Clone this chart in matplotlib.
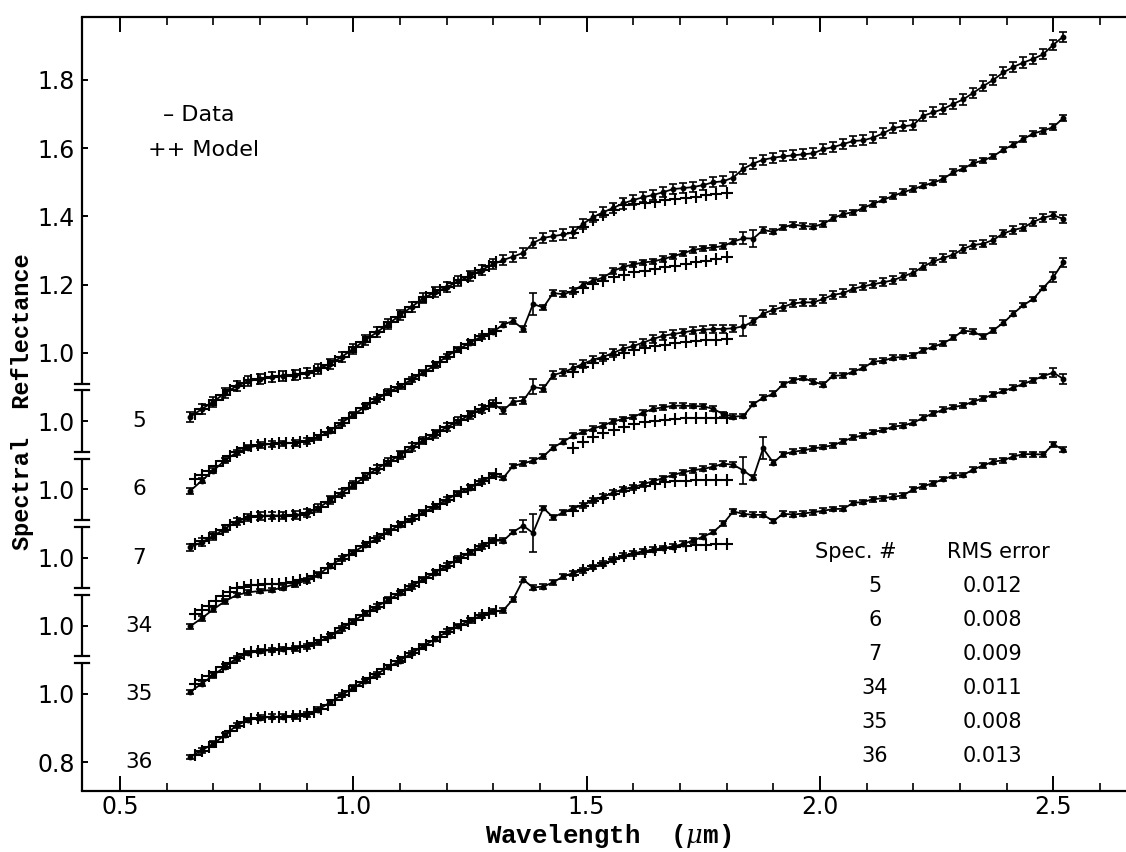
import matplotlib
matplotlib.use("Agg")
import matplotlib.pyplot as plt
import matplotlib.transforms as mtransforms
from matplotlib.ticker import MultipleLocator
import numpy as np

# wavelengths (um) of the measured points, dense part then sparse part
wl_data = [0.650, 0.675, 0.700, 0.725, 0.750, 0.775, 0.800, 0.825, 0.850, 0.875,
           0.900, 0.925, 0.950, 0.975, 1.000, 1.025, 1.050, 1.075, 1.100, 1.125,
           1.150, 1.175, 1.200, 1.225, 1.250, 1.275, 1.300,
           1.321, 1.342, 1.364, 1.385, 1.407, 1.428, 1.450, 1.471, 1.492, 1.514,
           1.535, 1.557, 1.578, 1.600, 1.621, 1.643, 1.664, 1.685, 1.707, 1.728,
           1.750, 1.771, 1.793, 1.814, 1.836, 1.857, 1.878, 1.900, 1.921, 1.943,
           1.964, 1.986, 2.007, 2.028, 2.050, 2.071, 2.093, 2.114, 2.136, 2.157,
           2.178, 2.200, 2.221, 2.243, 2.264, 2.286, 2.307, 2.328, 2.350, 2.371,
           2.393, 2.414, 2.436, 2.457, 2.478, 2.500, 2.521]

# wavelengths of the model points
wl_model = [0.660, 0.675, 0.690, 0.705, 0.720, 0.735, 0.750, 0.765, 0.780, 0.795,
            0.810, 0.825, 0.840, 0.855, 0.870, 0.885, 0.900, 0.915, 0.930, 0.945,
            0.960, 0.975, 0.990, 1.005, 1.020, 1.035, 1.050, 1.065, 1.080, 1.095,
            1.110, 1.125, 1.140, 1.155, 1.170, 1.185, 1.200, 1.215, 1.230, 1.245,
            1.260, 1.275, 1.290, 1.305,
            1.470, 1.492, 1.514, 1.536, 1.558, 1.580, 1.602, 1.624, 1.646, 1.668,
            1.690, 1.712, 1.734, 1.756, 1.778, 1.800]

spec_ids = ["5", "6", "7", "34", "35", "36"]
rms_error = ["0.012", "0.008", "0.009", "0.011", "0.008", "0.013"]

# data, in plot units (each spectrum shifted down 0.2 from the one above)
refl_5 = [0.812, 0.835, 0.857, 0.882, 0.903, 0.917, 0.924, 0.929, 0.932, 0.934,
          0.941, 0.953, 0.968, 0.988, 1.012, 1.037, 1.060, 1.085, 1.110, 1.135,
          1.160, 1.178, 1.192, 1.210, 1.225, 1.243, 1.260,
          1.272, 1.282, 1.293, 1.322, 1.337, 1.342, 1.347, 1.353, 1.378, 1.398,
          1.412, 1.425, 1.438, 1.448, 1.456, 1.463, 1.471, 1.480, 1.483, 1.486,
          1.492, 1.500, 1.503, 1.514, 1.540, 1.555, 1.566, 1.572, 1.576, 1.579,
          1.582, 1.585, 1.597, 1.603, 1.612, 1.621, 1.623, 1.631, 1.644, 1.659,
          1.664, 1.668, 1.695, 1.705, 1.715, 1.730, 1.743, 1.762, 1.782, 1.800,
          1.822, 1.838, 1.851, 1.862, 1.875, 1.903, 1.927]
refl_6 = [0.595, 0.625, 0.655, 0.685, 0.708, 0.722, 0.730, 0.733, 0.735, 0.736,
          0.742, 0.752, 0.772, 0.795, 0.818, 0.842, 0.864, 0.885, 0.902, 0.922,
          0.942, 0.964, 0.990, 1.010, 1.030, 1.048, 1.062,
          1.083, 1.093, 1.070, 1.143, 1.133, 1.175, 1.172, 1.181, 1.200, 1.212,
          1.220, 1.240, 1.252, 1.259, 1.265, 1.268, 1.275, 1.283, 1.292, 1.302,
          1.306, 1.309, 1.313, 1.326, 1.336, 1.335, 1.360, 1.355, 1.368, 1.376,
          1.372, 1.370, 1.378, 1.395, 1.407, 1.412, 1.425, 1.437, 1.449, 1.460,
          1.471, 1.480, 1.490, 1.499, 1.510, 1.530, 1.540, 1.556, 1.564, 1.576,
          1.596, 1.610, 1.627, 1.643, 1.651, 1.662, 1.688]
refl_7 = [0.430, 0.445, 0.463, 0.485, 0.505, 0.518, 0.522, 0.523, 0.523, 0.524,
          0.530, 0.545, 0.568, 0.590, 0.612, 0.637, 0.660, 0.680, 0.700, 0.724,
          0.743, 0.762, 0.782, 0.800, 0.818, 0.836, 0.851,
          0.831, 0.857, 0.860, 0.900, 0.895, 0.935, 0.943, 0.955, 0.968, 0.980,
          0.988, 1.000, 1.012, 1.020, 1.030, 1.041, 1.050, 1.055, 1.060, 1.065,
          1.068, 1.070, 1.070, 1.072, 1.078, 1.092, 1.115, 1.126, 1.135, 1.145,
          1.148, 1.148, 1.158, 1.170, 1.175, 1.188, 1.195, 1.201, 1.207, 1.213,
          1.224, 1.235, 1.253, 1.268, 1.278, 1.288, 1.305, 1.316, 1.320, 1.331,
          1.350, 1.360, 1.367, 1.384, 1.396, 1.403, 1.393]
refl_34 = [0.198, 0.222, 0.248, 0.272, 0.290, 0.298, 0.302, 0.305, 0.312, 0.322,
           0.333, 0.350, 0.375, 0.398, 0.415, 0.437, 0.455, 0.476, 0.496, 0.514,
           0.532, 0.550, 0.570, 0.588, 0.605, 0.623, 0.641,
           0.633, 0.668, 0.676, 0.684, 0.697, 0.722, 0.740, 0.757, 0.768, 0.778,
           0.787, 0.799, 0.806, 0.812, 0.825, 0.836, 0.840, 0.845, 0.845, 0.844,
           0.843, 0.836, 0.820, 0.813, 0.815, 0.850, 0.868, 0.880, 0.908, 0.920,
           0.926, 0.915, 0.907, 0.933, 0.934, 0.945, 0.956, 0.974, 0.977, 0.986,
           0.988, 0.993, 1.008, 1.018, 1.028, 1.045, 1.065, 1.062, 1.048, 1.066,
           1.088, 1.115, 1.140, 1.158, 1.190, 1.222, 1.265]
refl_35 = [0.006, 0.030, 0.055, 0.080, 0.105, 0.120, 0.126, 0.129, 0.132, 0.134,
           0.140, 0.152, 0.170, 0.192, 0.213, 0.236, 0.256, 0.276, 0.296, 0.316,
           0.336, 0.356, 0.376, 0.396, 0.415, 0.433, 0.450,
           0.449, 0.475, 0.493, 0.472, 0.545, 0.518, 0.532, 0.545, 0.553, 0.568,
           0.578, 0.590, 0.600, 0.606, 0.615, 0.624, 0.633, 0.642, 0.650, 0.656,
           0.660, 0.666, 0.675, 0.672, 0.655, 0.634, 0.720, 0.678, 0.703, 0.710,
           0.714, 0.720, 0.724, 0.729, 0.741, 0.752, 0.758, 0.768, 0.774, 0.784,
           0.787, 0.795, 0.810, 0.823, 0.833, 0.841, 0.846, 0.857, 0.867, 0.878,
           0.888, 0.898, 0.909, 0.920, 0.932, 0.942, 0.924]
refl_36 = [-0.185, -0.165, -0.146, -0.120, -0.092, -0.076, -0.070, -0.067, -0.067, -0.066,
           -0.060, -0.046, -0.025, -0.003, 0.018, 0.038, 0.058, 0.079, 0.098, 0.120,
           0.140, 0.161, 0.182, 0.199, 0.216, 0.230, 0.242,
           0.245, 0.277, 0.335, 0.312, 0.315, 0.327, 0.345, 0.354, 0.362, 0.372,
           0.382, 0.394, 0.405, 0.412, 0.418, 0.423, 0.428, 0.432, 0.440, 0.450,
           0.461, 0.475, 0.500, 0.535, 0.528, 0.525, 0.525, 0.507, 0.528, 0.526,
           0.529, 0.533, 0.537, 0.542, 0.543, 0.560, 0.563, 0.571, 0.574, 0.578,
           0.582, 0.600, 0.609, 0.618, 0.630, 0.640, 0.642, 0.658, 0.670, 0.681,
           0.685, 0.696, 0.703, 0.703, 0.702, 0.732, 0.716]

# model fits
model_5 = [0.821, 0.835, 0.848, 0.862, 0.877, 0.891, 0.903, 0.912, 0.919, 0.923,
           0.926, 0.929, 0.931, 0.932, 0.934, 0.937, 0.941, 0.948, 0.956, 0.965,
           0.976, 0.988, 1.002, 1.017, 1.032, 1.046, 1.060, 1.075, 1.090, 1.105,
           1.120, 1.135, 1.150, 1.163, 1.175, 1.185, 1.194, 1.204, 1.214, 1.223,
           1.233, 1.243, 1.254, 1.265,
           1.352, 1.370, 1.390, 1.405, 1.420, 1.432, 1.435, 1.440, 1.443, 1.448,
           1.450, 1.455, 1.458, 1.462, 1.466, 1.469]
model_6 = [0.630, 0.642, 0.655, 0.668, 0.682, 0.697, 0.710, 0.720, 0.727, 0.731,
           0.733, 0.734, 0.735, 0.736, 0.737, 0.739, 0.743, 0.750, 0.758, 0.768,
           0.781, 0.795, 0.809, 0.823, 0.838, 0.852, 0.864, 0.877, 0.889, 0.899,
           0.910, 0.922, 0.934, 0.948, 0.960, 0.973, 0.988, 1.002, 1.015, 1.027,
           1.038, 1.048, 1.056, 1.065,
           1.178, 1.190, 1.203, 1.212, 1.222, 1.229, 1.236, 1.241, 1.246, 1.251,
           1.255, 1.260, 1.265, 1.270, 1.275, 1.280]
model_7 = [0.440, 0.448, 0.458, 0.470, 0.482, 0.494, 0.505, 0.514, 0.519, 0.521,
           0.522, 0.523, 0.523, 0.523, 0.524, 0.526, 0.530, 0.538, 0.549, 0.563,
           0.577, 0.590, 0.603, 0.617, 0.632, 0.647, 0.660, 0.672, 0.684, 0.696,
           0.710, 0.724, 0.736, 0.747, 0.758, 0.770, 0.782, 0.793, 0.804, 0.815,
           0.826, 0.836, 0.845, 0.853,
           0.945, 0.958, 0.971, 0.983, 0.993, 1.001, 1.008, 1.014, 1.020, 1.024,
           1.028, 1.031, 1.034, 1.037, 1.039, 1.041]
model_34 = [0.235, 0.245, 0.258, 0.272, 0.287, 0.300, 0.310, 0.315, 0.318, 0.320,
            0.321, 0.322, 0.323, 0.325, 0.328, 0.333, 0.338, 0.346, 0.356, 0.368,
            0.382, 0.396, 0.408, 0.420, 0.433, 0.445, 0.456, 0.468, 0.480, 0.492,
            0.503, 0.514, 0.525, 0.536, 0.547, 0.558, 0.570, 0.581, 0.592, 0.602,
            0.612, 0.623, 0.634, 0.644,
            0.722, 0.738, 0.752, 0.765, 0.775, 0.784, 0.791, 0.797, 0.801, 0.804,
            0.806, 0.808, 0.808, 0.809, 0.809, 0.809]
model_35 = [0.030, 0.040, 0.052, 0.065, 0.078, 0.092, 0.105, 0.116, 0.123, 0.127,
            0.129, 0.130, 0.131, 0.132, 0.134, 0.137, 0.141, 0.148, 0.157, 0.167,
            0.179, 0.192, 0.205, 0.218, 0.232, 0.244, 0.256, 0.268, 0.280, 0.292,
            0.304, 0.316, 0.328, 0.340, 0.352, 0.364, 0.376, 0.388, 0.400, 0.411,
            0.422, 0.433, 0.443, 0.452,
            0.536, 0.550, 0.565, 0.574, 0.586, 0.595, 0.603, 0.610, 0.616, 0.620,
            0.623, 0.625, 0.626, 0.627, 0.627, 0.627]
model_36 = [-0.178, -0.168, -0.156, -0.142, -0.126, -0.110, -0.095, -0.082, -0.074, -0.070,
            -0.068, -0.067, -0.067, -0.067, -0.066, -0.064, -0.060, -0.053, -0.043, -0.031,
            -0.018, -0.004, 0.010, 0.023, 0.035, 0.047, 0.059, 0.072, 0.085, 0.097,
            0.109, 0.121, 0.133, 0.144, 0.156, 0.168, 0.181, 0.192, 0.203, 0.213,
            0.222, 0.231, 0.238, 0.244,
            0.350, 0.362, 0.374, 0.385, 0.395, 0.404, 0.411, 0.417, 0.423, 0.428,
            0.432, 0.435, 0.437, 0.438, 0.439, 0.440]

# error bar half-heights: a base value per spectrum plus the few big ones
err_base = [0.015, 0.008, 0.011, 0.007, 0.007, 0.007]
err_big = [
    {},
    {1.385: 0.032, 1.836: 0.018, 1.857: 0.026},
    {1.385: 0.022, 1.836: 0.030},
    {2.500: 0.014, 2.521: 0.014},
    {1.364: 0.018, 1.385: 0.055, 1.836: 0.040, 1.878: 0.032, 2.500: 0.014, 2.521: 0.014},
    {},
]

# the y axis is one scale with the spectra stacked 0.2 apart
ytick_pos = [-0.2, 0.0, 0.2, 0.4, 0.6, 0.8, 1.0, 1.2, 1.4, 1.6, 1.8]
ytick_lab = ["0.8", "1.0", "1.0", "1.0", "1.0", "1.0", "1.0", "1.2", "1.4", "1.6", "1.8"]
spec_label_pos = [0.8, 0.6, 0.4, 0.2, 0.0, -0.2]
break_pos = [0.1, 0.3, 0.5, 0.7, 0.9]

refl_all = [refl_5, refl_6, refl_7, refl_34, refl_35, refl_36]
model_all = [model_5, model_6, model_7, model_34, model_35, model_36]

plt.rcParams["font.family"] = ["DejaVu Sans"]
plt.rcParams["mathtext.fontset"] = "dejavuserif"

W, H = 1126, 852
fig = plt.figure(figsize=(W / 100, H / 100), dpi=100)
ax = fig.add_axes([82 / W, 1 - 790.5 / H, (1128 - 82) / W, (790.5 - 16.5) / H])
ax.set_xlim(0.4185, 2.66)
ax.set_ylim(-0.283, 1.986)

wl = np.array(wl_data)
for k in range(len(spec_ids)):
    err = np.full(len(wl), err_base[k])
    for w, v in err_big[k].items():
        err[np.argmin(np.abs(wl - w))] = v
    ax.errorbar(wl, refl_all[k], yerr=err, fmt="-o", color="black", ms=3.2,
                lw=1.3, elinewidth=1.2, capsize=2.6, capthick=1.2)
    ax.plot(wl_model, model_all[k], linestyle="none", marker="+", ms=8.5,
            mew=1.5, color="black")

ax.set_xticks([0.5, 1.0, 1.5, 2.0, 2.5])
ax.set_xticklabels(["0.5", "1.0", "1.5", "2.0", "2.5"])
ax.xaxis.set_minor_locator(MultipleLocator(0.1))
ax.tick_params(axis="x", which="both", direction="in", top=True, labelsize=17, pad=3)
ax.tick_params(axis="x", which="major", length=11, width=1.4)
ax.tick_params(axis="x", which="minor", length=6, width=1.2)
ax.set_yticks(ytick_pos)
ax.set_yticklabels(ytick_lab)
ax.tick_params(axis="y", direction="in", length=4, width=1.4, labelsize=17, pad=5)

for side in ["left", "right"]:
    ax.spines[side].set_visible(False)
for side in ["top", "bottom"]:
    ax.spines[side].set_linewidth(1.6)

# left spine drawn by hand so it can be broken between spectra
trans = mtransforms.blended_transform_factory(ax.transAxes, ax.transData)
gap = 0.01
edges = [ax.get_ylim()[0]]
for b in break_pos:
    edges += [b - gap, b + gap]
edges.append(ax.get_ylim()[1])
for lo, hi in zip(edges[::2], edges[1::2]):
    ax.plot([0, 0], [lo, hi], transform=trans, color="black", lw=1.6,
            clip_on=False, solid_capstyle="butt")
for b in break_pos:
    for yy in (b - gap, b + gap):
        ax.plot([-0.0068, 0.0068], [yy, yy], transform=trans, color="black",
                lw=1.6, clip_on=False)

# spectrum numbers left of the curves
lab_trans = mtransforms.blended_transform_factory(fig.transFigure, ax.transData)
for sid, yy in zip(spec_ids, spec_label_pos):
    ax.text(139 / W, yy, sid, transform=lab_trans, ha="center", va="center",
            fontsize=15.5)

# legend
fig.text(163 / W, 1 - 115 / H, "\u2013 Data", fontsize=16, ha="left", va="center")
fig.text(148 / W, 1 - 150 / H, "++ Model", fontsize=16, ha="left", va="center")

# RMS table
fig.text(856 / W, 1 - 552 / H, "Spec. #", fontsize=15, ha="center", va="center")
fig.text(998 / W, 1 - 552 / H, "RMS error", fontsize=15, ha="center", va="center")
for i, (sid, r) in enumerate(zip(spec_ids, rms_error)):
    yy = 1 - (586 + i * 34) / H
    fig.text(875 / W, yy, sid, fontsize=15, ha="center", va="center")
    fig.text(992 / W, yy, r, fontsize=15, ha="center", va="center")

# axis titles
fig.text(608 / W, 1 - 836 / H, "Wavelength  ($\\mu$m)", family="Liberation Mono",
         weight="bold", fontsize=18.5, ha="center", va="center")
fig.text(23 / W, 1 - 402 / H, "Spectral  Reflectance", family="Liberation Mono",
         weight="bold", fontsize=17, ha="center", va="center", rotation=90)

fig.savefig("out.png", dpi=100)
